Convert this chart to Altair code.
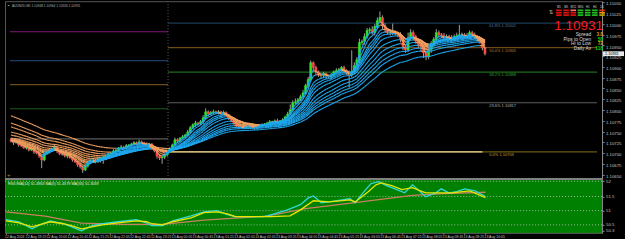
import json
import altair as alt
import pandas as pd
import numpy as np

# ---------------- data (prices in points above 1.10000) ----------------
BASE = 1.1
PT = 1e-5

close_pts = [
    728, 724, 726, 719, 717, 712, 714, 707, 710, 703,
    700, 693, 684, 698, 703, 707, 710, 714, 705, 698,
    698, 693, 696, 689, 684, 680, 673, 668, 661, 670,
    677, 682, 684, 680, 686, 689, 691, 693, 698, 700,
    705, 707, 712, 714, 712, 717, 719, 721, 724, 721,
    726, 724, 721, 719, 721, 712, 705, 693, 689, 691,
    696, 703, 710, 719, 731, 728, 735, 738, 742, 749,
    759, 766, 770, 768, 773, 782, 796, 791, 794, 796,
    794, 796, 791, 794, 789, 782, 775, 770, 763, 761,
    761, 759, 761, 763, 761, 759, 761, 763, 766, 768,
    770, 773, 773, 775, 773, 775, 777, 784, 791, 801,
    817, 819, 824, 831, 840, 857, 871, 910, 899, 889,
    882, 880, 885, 880, 878, 882, 889, 892, 894, 899,
    892, 887, 882, 889, 903, 917, 957, 959, 971, 985,
    987, 980, 994, 1008, 1015, 996, 987, 980, 982, 980,
    978, 975, 964, 947, 940, 968, 980, 971, 961, 952,
    947, 933, 924, 940, 954, 964, 980, 975, 973, 968,
    971, 968, 964, 971, 973, 975, 975, 973, 971, 980,
    975, 971, 966, 959, 945, 931]
first_open_pts = 731

wick_up_pts = [
    4, 2, 5, 3, 2, 4, 3, 2, 5, 3,
    2, 3, 4, 2, 3, 5, 2, 6, 3, 2,
    3, 2, 4, 3, 2, 3, 2, 4, 3, 5,
    3, 4, 2, 3, 5, 2, 3, 4, 3, 2,
    4, 3, 2, 5, 3, 4, 2, 3, 4, 3,
    5, 3, 2, 4, 3, 2, 3, 2, 4, 3,
    3, 2, 4, 3, 5, 3, 2, 4, 3, 5,
    4, 3, 5, 2, 4, 6, 8, 3, 4, 5,
    3, 4, 2, 5, 3, 2, 3, 2, 4, 3,
    2, 4, 3, 2, 5, 3, 2, 4, 3, 2,
    3, 4, 2, 3, 5, 2, 4, 3, 5, 12,
    6, 8, 4, 5, 7, 4, 6, 5, 3, 4,
    3, 5, 4, 2, 3, 4, 3, 5, 4, 3,
    4, 3, 5, 50, 8, 6, 9, 5, 7, 6,
    5, 8, 6, 7, 14, 5, 6, 4, 5, 19,
    5, 4, 6, 3, 4, 12, 8, 5, 4, 3,
    4, 3, 5, 4, 6, 5, 8, 5, 4, 6,
    5, 4, 6, 5, 7, 23, 5, 4, 6, 5,
    4, 5, 3, 4, 3, 2]
wick_dn_pts = [
    3, 5, 2, 4, 3, 2, 4, 3, 2, 5,
    3, 4, 19, 3, 2, 4, 3, 2, 5, 3,
    4, 3, 5, 2, 4, 3, 5, 4, 7, 3,
    4, 3, 5, 4, 3, 8, 14, 6, 3, 4,
    3, 2, 4, 3, 5, 2, 3, 4, 2, 3,
    3, 4, 2, 3, 5, 4, 3, 6, 5, 14,
    5, 4, 3, 6, 4, 5, 3, 4, 5, 3,
    4, 3, 5, 4, 3, 5, 4, 6, 3, 4,
    3, 4, 5, 3, 4, 5, 3, 4, 3, 5,
    4, 3, 2, 4, 3, 5, 3, 2, 4, 3,
    3, 2, 4, 3, 2, 4, 3, 5, 4, 3,
    5, 4, 6, 3, 5, 4, 6, 5, 8, 6,
    5, 7, 6, 8, 5, 6, 4, 5, 7, 5,
    6, 5, 30, 6, 6, 5, 8, 6, 7, 5,
    6, 5, 7, 5, 6, 8, 6, 5, 7, 6,
    5, 6, 7, 8, 7, 5, 6, 8, 7, 9,
    10, 12, 8, 6, 7, 5, 6, 7, 5, 6,
    5, 6, 7, 5, 6, 5, 6, 7, 5, 6,
    5, 6, 7, 5, 6, 4]

# moving-average ribbon: periods and their values at the first visible bar
ema_periods = [3, 5, 8, 10, 12, 15, 20, 25, 30, 35, 40, 50]
ema_start_pts = [728, 729, 729, 730, 731, 733, 735, 742, 749, 761, 770, 787]

# time axis
time_labels = ["12 Aug 2024", "12 Aug 19:25", "12 Aug 20:05", "12 Aug 20:45",
               "12 Aug 21:25", "12 Aug 22:05", "12 Aug 22:45", "12 Aug 23:25",
               "13 Aug 00:05", "13 Aug 00:45", "13 Aug 01:25", "13 Aug 02:05",
               "13 Aug 02:45", "13 Aug 03:25", "13 Aug 04:05", "13 Aug 04:45",
               "13 Aug 05:25", "13 Aug 06:05", "13 Aug 06:45", "13 Aug 07:25",
               "13 Aug 08:05", "13 Aug 08:45", "13 Aug 09:25", "13 Aug 10:05"]
label_every = 8
day_separator_bar = 61.3

price_ticks = [1.10650, 1.10675, 1.10700, 1.10725, 1.10750, 1.10775, 1.10800,
               1.10825, 1.10850, 1.10875, 1.10900, 1.10925, 1.10950, 1.10975,
               1.11000, 1.11025, 1.11050]
bid_price = 1.10931

# fibonacci levels
fib_prev_levels = [1.10982, 1.10915, 1.10859, 1.10803, 1.10733]
fib_prev_colors = ["#7a1a7a", "#1d3d66", "#6b4a1c", "#1c5a1c", "#5a5a5a"]
fib_names = ["61.8%", "50.0%", "38.2%", "23.6%", "0.0%"]
fib_levels = [1.11002, 1.10945, 1.10888, 1.10817, 1.10703]
fib_colors = ["#1d3a58", "#6e4a1a", "#1f6a1f", "#5c5c5c", "#6a5810"]
fib_text_colors = ["#4f7aa0", "#b07a30", "#2fa02f", "#b4b4b4", "#c8a030"]
fib_end_bar = 184

# lower indicator window
ind_fast_bars = [0, 5, 10, 14, 17, 22, 26, 29, 33, 37, 43, 50, 54, 56, 60, 64, 71, 76,
                 81, 85, 88, 99, 102, 108, 113, 116, 118, 121, 124, 132, 134, 137, 140,
                 143, 146, 150, 153, 156, 159, 161, 165, 167, 170, 173, 176, 180, 184]
ind_fast_vals = [50.68, 50.61, 50.36, 50.54, 50.64, 50.54, 50.40, 50.29, 50.47, 50.54,
                 50.61, 50.68, 50.57, 50.47, 50.47, 50.64, 50.82, 50.96, 51.00, 50.86,
                 50.79, 50.79, 50.86, 51.03, 51.21, 51.45, 51.52, 51.28, 51.31, 51.42,
                 51.28, 51.63, 51.95, 52.02, 51.88, 51.74, 51.63, 51.91, 51.67, 51.49,
                 51.63, 51.77, 51.63, 51.67, 51.77, 51.70, 51.50]
ind_sig_bars = [0, 5, 10, 17, 22, 25, 29, 33, 37, 43, 50, 54, 56, 60, 64, 71, 76, 81,
                85, 88, 99, 102, 109, 113, 118, 124, 132, 134, 139, 142, 144, 148, 152,
                156, 161, 165, 171, 178, 184]
ind_sig_vals = [50.64, 50.57, 50.43, 50.61, 50.54, 50.47, 50.36, 50.43, 50.50, 50.57,
                50.64, 50.61, 50.54, 50.50, 50.61, 50.75, 50.93, 50.96, 50.89, 50.79,
                50.79, 50.79, 50.82, 51.03, 51.35, 51.31, 51.38, 51.31, 51.67, 51.91,
                51.98, 51.88, 51.74, 51.81, 51.63, 51.63, 51.63, 51.70, 51.46]
ind_slow_bars = [0, 15, 29, 45, 60, 76, 100, 115, 130, 156, 168, 184]
ind_slow_vals = [50.96, 50.81, 50.56, 50.52, 50.52, 50.67, 50.81, 51.07, 51.24, 51.54,
                 51.60, 51.65]
ind_levels = [50.5, 51.0, 51.5, 52.0364]
ind_ticks = [50.3056, 50.5, 51.0, 51.5, 52.0364]
ind_title = "RSIOMA(14) 51.4963  MA(5) 51.4579  MA(55) 51.3039"

# info panel
header_text = "AUDNZD,M5  1.10948 1.10964 1.10926 1.10931"
tf_names = ["M1", "M5", "M15", "M30", "H1", "H4", "D1"]
tf_rows = [["#e01010", "#e01010", "#ff7070", "#20c020", "#20c020", "#20c020", "#e03010"],
           ["#e01010", "#e01010", "#e01010", "#20c020", "#20c020", "#20c020", "#ff8c00"],
           ["#e01010", "#e01010", "#e01010", "#20c020", "#20c020", "#20c020", "#b0a000"]]
info_labels = ["Spread", "Pips to Open", "Hi to Low", "Daily Av"]
info_values = ["3.8", "58", "72", "118"]
info_colors = ["#e08a00", "#00d000", "#e0a000", "#00d000"]

# ---------------- derived tables ----------------
N = len(close_pts)
close = [BASE + c * PT for c in close_pts]
opens = [BASE + first_open_pts * PT] + close[:-1]
rows = []
for i in range(N):
    o, c = opens[i], close[i]
    rows.append(dict(i=i, o=o, c=c,
                     hi=max(o, c) + wick_up_pts[i] * PT,
                     lo=min(o, c) - wick_dn_pts[i] * PT,
                     col="#2ee62e" if c > o else ("#ff4a4a" if c < o else "#bbbbbb")))
candles = pd.DataFrame(rows)

seg_rows = []
for p, s in zip(ema_periods, ema_start_pts):
    a = 2.0 / (p + 1)
    e = [BASE + s * PT]
    for i in range(1, N):
        e.append(e[-1] + a * (close[i] - e[-1]))
    for i in range(1, N):
        seg_rows.append(dict(x=i - 1, x2=i, y=e[i - 1], y2=e[i],
                             col="#1ea8f0" if e[i] >= e[i - 1] else "#f0a060"))
segs = pd.DataFrame(seg_rows)

x_min, x_max = -0.383, 228.74
XS = alt.Scale(domain=[x_min, x_max], nice=False, zero=False)
YS = alt.Scale(domain=[1.10640, 1.11053], nice=False, zero=False)
IS = alt.Scale(domain=[50.22, 52.12], nice=False, zero=False)
FONT = "Liberation Sans"
AXC = "#c4c4c4"

YAX = alt.Axis(orient="right", values=price_ticks, format=".5f", labelFontSize=4.3,
               labelColor=AXC, labelFont=FONT, tickSize=2, tickColor="#8a8a8a",
               domainColor="#8a8a8a", grid=False, title=None, labelPadding=1.5,
               labelOffset=1.5, labelFlush=False, labelOverlap=False, labelBound=False)
IAX = alt.Axis(orient="right", values=ind_ticks, format="~g", labelFontSize=4.3,
               labelColor=AXC, labelFont=FONT, tickSize=2, tickColor="#8a8a8a",
               domainColor="#8a8a8a", grid=False, title=None, labelPadding=1.5,
               labelFlush=False, labelOverlap=False, labelBound=False)
label_js = json.dumps(time_labels)
XAX = alt.Axis(values=list(range(0, N, label_every)),
               labelExpr=f"{label_js}[round(datum.value/{label_every})]",
               labelFontSize=3.5, labelColor=AXC, labelFont=FONT, labelAlign="left",
               labelBaseline="top", labelPadding=0, labelOffset=-1.5, tickSize=1.5,
               tickColor="#8a8a8a", domain=False, grid=False, title=None,
               labelOverlap=False, labelFlush=False, labelBound=False)


def X(f, ax=None):
    return alt.X(f, type="quantitative", scale=XS, axis=ax)


def Y(f):
    return alt.Y(f, type="quantitative", scale=YS, axis=YAX)


def IY(f):
    return alt.Y(f, type="quantitative", scale=IS, axis=IAX)


# ---------------- main window ----------------
fprev = pd.DataFrame(dict(a=x_min, b=day_separator_bar, y=fib_prev_levels, col=fib_prev_colors))
fcur = pd.DataFrame(dict(a=day_separator_bar, b=x_max, y=fib_levels, col=fib_colors))
fzero = pd.DataFrame(dict(a=[day_separator_bar], b=[fib_end_bar], y=[fib_levels[-1]]))
flab = pd.DataFrame(dict(y=fib_levels, t=[f"{n}  {v:.5f}" for n, v in zip(fib_names, fib_levels)],
                         col=fib_text_colors))

layers = []
layers.append(alt.Chart(fprev).mark_rule(strokeWidth=1.2).encode(
    x=X("a"), x2="b", y=Y("y"), color=alt.Color("col:N", scale=None)))
layers.append(alt.Chart(fcur).mark_rule(strokeWidth=1.2).encode(
    x=X("a"), x2="b", y=Y("y"), color=alt.Color("col:N", scale=None)))
layers.append(alt.Chart(fzero).mark_rule(strokeWidth=1.2, color="#f2dc9c").encode(
    x=X("a"), x2="b", y=Y("y")))
layers.append(alt.Chart(pd.DataFrame(dict(x=[day_separator_bar]))).mark_rule(
    color="#5a5a5a", strokeDash=[1, 2]).encode(x=X("x")))
layers.append(alt.Chart(candles).mark_rule(color="#a0a0a0", strokeWidth=1).encode(
    x=X("i"), y=Y("lo"), y2="hi"))
layers.append(alt.Chart(candles).mark_bar(size=2, strokeWidth=0.6).encode(
    x=X("i"), y=Y("o"), y2="c", color=alt.Color("col:N", scale=None),
    stroke=alt.Color("col:N", scale=None)))
layers.append(alt.Chart(segs).mark_rule(strokeWidth=1.1).encode(
    x=X("x"), x2="x2", y=Y("y"), y2="y2", color=alt.Color("col:N", scale=None)))
layers.append(alt.Chart(flab).mark_text(align="left", baseline="top", dy=1, fontSize=4,
                                        font=FONT).encode(
    x=alt.value(485), y=Y("y"), text="t:N", color=alt.Color("col:N", scale=None)))

# bid label on the price axis
bid_df = pd.DataFrame(dict(y=[bid_price], hi=[bid_price + 5.5 * PT], lo=[bid_price - 5.5 * PT],
                           t=[f"{bid_price:.5f}"]))
layers.append(alt.Chart(bid_df).mark_rect(color="#e8e8e8").encode(
    x=alt.value(599), x2=alt.value(620), y=Y("hi"), y2="lo"))
layers.append(alt.Chart(bid_df).mark_text(align="left", baseline="middle", fontSize=3.8,
                                          font=FONT, color="#000000").encode(
    x=alt.value(601), y=Y("y"), text="t:N"))

# header and info panel (screen annotations)
layers.append(alt.Chart(pd.DataFrame(dict(t=[header_text]))).mark_text(
    align="left", baseline="middle", fontSize=3.2, font=FONT, color="#b0b0b0").encode(
    x=alt.value(7), y=alt.value(5), text="t:N"))
layers.append(alt.Chart(pd.DataFrame(dict(t=["\u25aa"]))).mark_text(
    align="left", baseline="middle", fontSize=4, font=FONT, color="#d0d0d0").encode(
    x=alt.value(3), y=alt.value(5), text="t:N"))
for k, name in enumerate(tf_names):
    cx = 552 + 7.2 * k
    layers.append(alt.Chart(pd.DataFrame(dict(t=[name]))).mark_text(
        align="center", baseline="middle", fontSize=2.8, font=FONT, color="#d8d8d8").encode(
        x=alt.value(cx + 2.8), y=alt.value(6), text="t:N"))
    for r in range(3):
        layers.append(alt.Chart(pd.DataFrame(dict(c=[tf_rows[r][k]]))).mark_rect().encode(
            x=alt.value(cx), x2=alt.value(cx + 5.6), y=alt.value(8.3 + 2.4 * r),
            y2=alt.value(10.0 + 2.4 * r), color=alt.Color("c:N", scale=None)))
layers.append(alt.Chart(pd.DataFrame(dict(t=["\u21c5"]))).mark_text(
    align="center", baseline="middle", fontSize=5, font=FONT, color="#c0c0c0").encode(
    x=alt.value(547), y=alt.value(11), text="t:N"))
layers.append(alt.Chart(pd.DataFrame(dict(t=[f"{bid_price:.5f}"]))).mark_text(
    align="right", baseline="alphabetic", fontSize=13.5, font=FONT, color="#ff1a1a").encode(
    x=alt.value(599), y=alt.value(29), text="t:N"))
for r, (lab, val, col) in enumerate(zip(info_labels, info_values, info_colors)):
    yy = 33.5 + 4.9 * r
    layers.append(alt.Chart(pd.DataFrame(dict(t=[lab]))).mark_text(
        align="right", baseline="middle", fontSize=4.8, font=FONT, color="#dcdcdc").encode(
        x=alt.value(587), y=alt.value(yy), text="t:N"))
    layers.append(alt.Chart(pd.DataFrame(dict(t=[val]))).mark_text(
        align="right", baseline="middle", fontSize=4.8, font=FONT, color=col,
        fontWeight="bold").encode(x=alt.value(599), y=alt.value(yy), text="t:N"))
layers.append(alt.Chart(pd.DataFrame(dict(t=["+"]))).mark_text(
    align="left", baseline="middle", fontSize=6, font=FONT, color="#c08040").encode(
    x=alt.value(2), y=alt.value(174), text="t:N"))

main = alt.layer(*layers).properties(
    width=598, height=178, view=alt.ViewBackground(fill="#000000", stroke="#555555"))

# ---------------- indicator window ----------------
fast = pd.DataFrame(dict(x=ind_fast_bars, v=ind_fast_vals))
sig = pd.DataFrame(dict(x=ind_sig_bars, v=ind_sig_vals))
slow = pd.DataFrame(dict(x=ind_slow_bars, v=ind_slow_vals))
lev = pd.DataFrame(dict(v=ind_levels))

ilayers = [
    alt.Chart(lev).mark_rule(color="#c8c8c8", strokeDash=[1, 2], strokeWidth=0.8).encode(
        x=alt.value(0), x2=alt.value(598), y=IY("v")),
    alt.Chart(pd.DataFrame(dict(x=[day_separator_bar]))).mark_rule(
        color="#4a4a4a", strokeDash=[1, 2]).encode(x=X("x", XAX)),
    alt.Chart(slow).mark_line(color="#c98060", strokeWidth=1.3).encode(x=X("x", XAX), y=IY("v")),
    alt.Chart(fast).mark_line(color="#30d8d8", strokeWidth=1.3).encode(x=X("x", XAX), y=IY("v")),
    alt.Chart(sig).mark_line(color="#e6e600", strokeWidth=1.3).encode(x=X("x", XAX), y=IY("v")),
    alt.Chart(pd.DataFrame(dict(t=[ind_title]))).mark_text(
        align="left", baseline="middle", fontSize=3.8, font=FONT, color="#e8e8e8").encode(
        x=alt.value(3), y=alt.value(5), text="t:N"),
    alt.Chart(pd.DataFrame(dict(a=[0]))).mark_rule(color="#808080", strokeWidth=2).encode(
        x=alt.value(0), x2=alt.value(598), y=alt.value(0)),
]
ind = alt.layer(*ilayers).properties(
    width=598, height=54, view=alt.ViewBackground(fill="#008000", stroke="#606060"))

chart = alt.vconcat(main, ind, spacing=0, bounds="flush").properties(
    padding={"left": 2, "top": 0, "right": 0, "bottom": 0}, background="#000000")

chart.save("out.html", embed_options={"renderer": "svg", "actions": False})
